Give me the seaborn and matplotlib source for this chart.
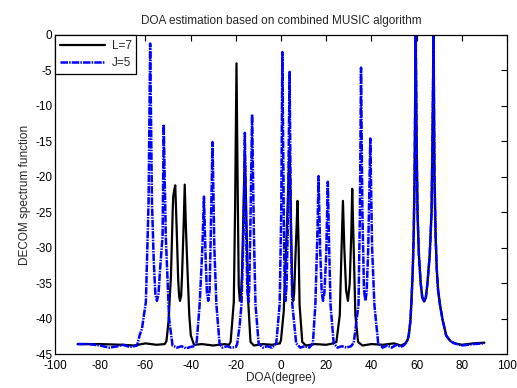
import numpy as np
import pandas as pd
import matplotlib
matplotlib.use("Agg")
import matplotlib.pyplot as plt
import seaborn as sns

# ---- data (key points of each spectrum) ----
l7_doa = [-90, -80, -70, -65, -60, -55, -51.5, -50.7, -49.8, -48.7, -47.9, -47.7, -47.3, -46.8,
          -46.2, -45.5, -45.1, -44.7, -44.2, -43.8, -43.1, -42.6, -42.1, -41.4, -40.6, -39.9, -38.5,
          -35, -30, -25, -23, -22.3, -20.9, -20.3, -19.7, -19.1, -18.7, -18.2, -17.7, -17.3, -16.4, -16.0,
          -15.6, -14.5, -13.5, -12, -8, -4, -0.5, 0.0, 1.2, 2.5, 3.8, 4.6, 5.0, 5.4, 5.8, 6.3, 6.9,
          7.3, 7.8, 8.2, 9.4, 11, 15, 20, 23, 24.5, 26.0, 26.8, 27.4, 28.0, 28.8, 29.6,
          30.4, 31.1, 31.5, 32.0, 32.9, 34.1, 36, 40, 45, 50, 53,
          55.1, 56.0, 56.5, 57.2, 57.7, 58.3, 58.7, 59.1, 59.6, 60.0, 60.4, 61.0, 61.8, 62.5, 63.3,
          64.1, 64.8, 65.8, 66.6, 67.0, 67.5, 67.9, 68.4, 68.9, 69.5, 70.4, 71.5, 73.1, 75.0, 76.8,
          80, 85, 90]
l7_val = [-43.6, -43.6, -43.7, -43.8, -43.5, -43.7, -43.6, -43.2, -40.5, -34, -24.5, -22.8, -22.0, -21.2,
          -27, -34.5, -36.8, -37.5, -36.8, -34, -27, -21.1, -27, -33, -39.5, -42.4, -43.7,
          -43.6, -43.8, -43.6, -43.7, -43.3, -37.7, -24, -4.0, -24, -35.5, -37.5, -36.5, -34, -22, -17,
          -22, -37.7, -43.3, -43.8, -43.6, -43.7, -43.5, -43.0, -39, -28, -16, -30, -36.3, -37.5, -36.5, -32, -27,
          -23.4, -30, -38, -43.3, -43.8, -43.6, -43.7, -43.5, -43.3, -39.5, -30, -23.4, -30, -36, -37.5,
          -35, -28, -21.7, -28, -39.5, -43.3, -43.8, -43.6, -43.7, -43.5, -43.8,
          -43.5, -43.0, -42.4, -40.5, -37.7, -33, -28.3, -20, 0.0, -15, -25, -31, -35, -37.0, -37.6,
          -37.0, -35, -31, -25, -15, 0.0, -20, -28.3, -33, -36, -38.2, -40.2, -42.4, -43.2, -43.5,
          -43.7, -43.5, -43.4]

j5_doa = [-90, -85, -80, -76, -72, -70, -67, -65, -63.7, -62.5, -61.5, -60.8, -59.8, -58.6, -57.9,
          -57.1, -56.3, -55.6, -54.9, -54.2, -53.5, -52.4, -51.9, -51.0, -49.5, -48.0, -46, -44, -42, -40,
          -38.5, -37.3, -36.0, -34.8, -34.1, -33.4, -32.8, -32.2, -31.6, -31.2, -30.3, -29.5, -28.6, -27.2,
          -26, -24, -22, -20, -19.4, -18.3, -17.5, -16.6, -16.0, -15.3, -14.9, -14.5, -14.1, -13.6, -12.8,
          -12.0, -11.3, -9.9, -8, -6, -4, -2.1, -0.6, 0.1, 0.6, 1.2, 1.6, 2.0, 2.5, 3.1, 3.8, 4.4, 5.0,
          6.7, 8.5, 10.5, 12.5, 14.1, 15.2, 16.1, 16.6, 17.3, 18.0, 18.6, 19.2, 20.0, 20.7, 21.3, 21.9,
          23.3, 25, 27, 29, 31, 32.2, 34.3, 34.9, 35.4, 36.0, 36.7, 37.3, 37.9, 38.6, 39.5, 40.3, 41.3,
          43.0, 45, 47, 49, 51, 53, 54.2,
          55.1, 56.0, 56.5, 57.2, 57.7, 58.3, 58.7, 59.1, 59.6, 60.0, 60.4, 61.0, 61.8, 62.5, 63.3,
          64.1, 64.8, 65.8, 66.6, 67.0, 67.5, 67.9, 68.4, 68.9, 69.5, 70.4, 71.5, 73.1, 75.0, 76.8,
          80, 85, 90]
j5_val = [-43.6, -43.6, -43.8, -44.1, -43.9, -43.7, -44.0, -43.9, -43.8, -42.3, -41.4, -39.8, -37.7, -23.6, -1.2,
          -23.6, -32, -36.5, -37.5, -36.5, -33, -28.3, -12.6, -28.3, -40.1, -43.8, -44.1, -43.9, -44.2, -44.0,
          -43.9, -43.3, -38, -30, -22.8, -31, -36.3, -37.5, -36.0, -30, -15.1, -30, -38, -43.5,
          -44.1, -43.9, -44.1, -44.0, -43.6, -41, -38, -28, -13.8, -30, -36, -37.7, -36, -28, -11.2,
          -28, -38, -43.5, -44.1, -43.9, -44.1, -43.5, -38, -25, -2.4, -25, -35, -37.5, -35, -25, -5.2, -28, -38,
          -43.5, -44.1, -43.9, -44.1, -43.5, -38, -28, -19.9, -30, -36.3, -37.5, -36.3, -31, -20.7, -30, -38,
          -43.5, -44.1, -43.9, -44.1, -43.9, -43.4, -38, -25, -4.6, -25, -35.8, -37.5, -36.3, -30, -14.6, -30, -38,
          -43.5, -44.1, -43.8, -44.1, -43.7, -44.0, -43.8,
          -43.5, -43.0, -42.4, -40.5, -37.7, -33, -28.3, -20, 0.0, -15, -25, -31, -35, -37.0, -37.6,
          -37.0, -35, -31, -25, -15, 0.0, -20, -28.3, -33, -36, -38.2, -40.2, -42.4, -43.2, -43.5,
          -43.8, -43.6, -43.5]

series_labels = ["L=7", "J=5"]
x_ticks = [-100, -80, -60, -40, -20, 0, 20, 40, 60, 80, 100]
y_ticks = [0, -5, -10, -15, -20, -25, -30, -35, -40, -45]

df_l7 = pd.DataFrame({"doa": l7_doa, "val": l7_val})
df_j5 = pd.DataFrame({"doa": j5_doa, "val": j5_val})

sns.set_theme(style="white")
plt.rcParams["font.family"] = ["Liberation Sans", "DejaVu Sans"]
plt.rcParams["axes.unicode_minus"] = False

fig = plt.figure(figsize=(5.17, 3.88), dpi=100)
ax = fig.add_axes([0.1064, 0.0876, 0.8743, 0.8222])

sns.lineplot(data=df_l7, x="doa", y="val", ax=ax, color="black", linewidth=1.6,
             sort=False, estimator=None, label=series_labels[0])
sns.lineplot(data=df_j5, x="doa", y="val", ax=ax, color="#0000ff", linewidth=1.8,
             sort=False, estimator=None, label=series_labels[1],
             linestyle=(0, (3.0, 0.45, 0.6, 0.45)))

ax.set_xlim(-100, 100)
ax.set_ylim(-45, 0)
ax.set_xticks(x_ticks)
ax.set_yticks(y_ticks)
ax.tick_params(direction="in", top=True, right=True, length=4, width=0.8,
               labelsize=8.5, colors="black")
ax.tick_params(axis="x", pad=4)
ax.tick_params(axis="y", pad=2)
for s in ax.spines.values():
    s.set_color("black")
    s.set_linewidth(0.9)

ax.set_title("DOA estimation based on combined MUSIC algorithm", fontsize=8.5, pad=8)
ax.set_xlabel("DOA(degree)", fontsize=8.5, labelpad=0)
ax.set_ylabel("DECOM spectrum function", fontsize=8.5, labelpad=3)

leg = ax.legend(loc="upper left", borderaxespad=0, fontsize=8.5, handlelength=3.8,
                fancybox=False, framealpha=1, edgecolor="black", borderpad=0.4,
                labelspacing=0.45, handletextpad=0.6)
leg.get_frame().set_linewidth(0.9)

fig.savefig("out.png", dpi=100)
